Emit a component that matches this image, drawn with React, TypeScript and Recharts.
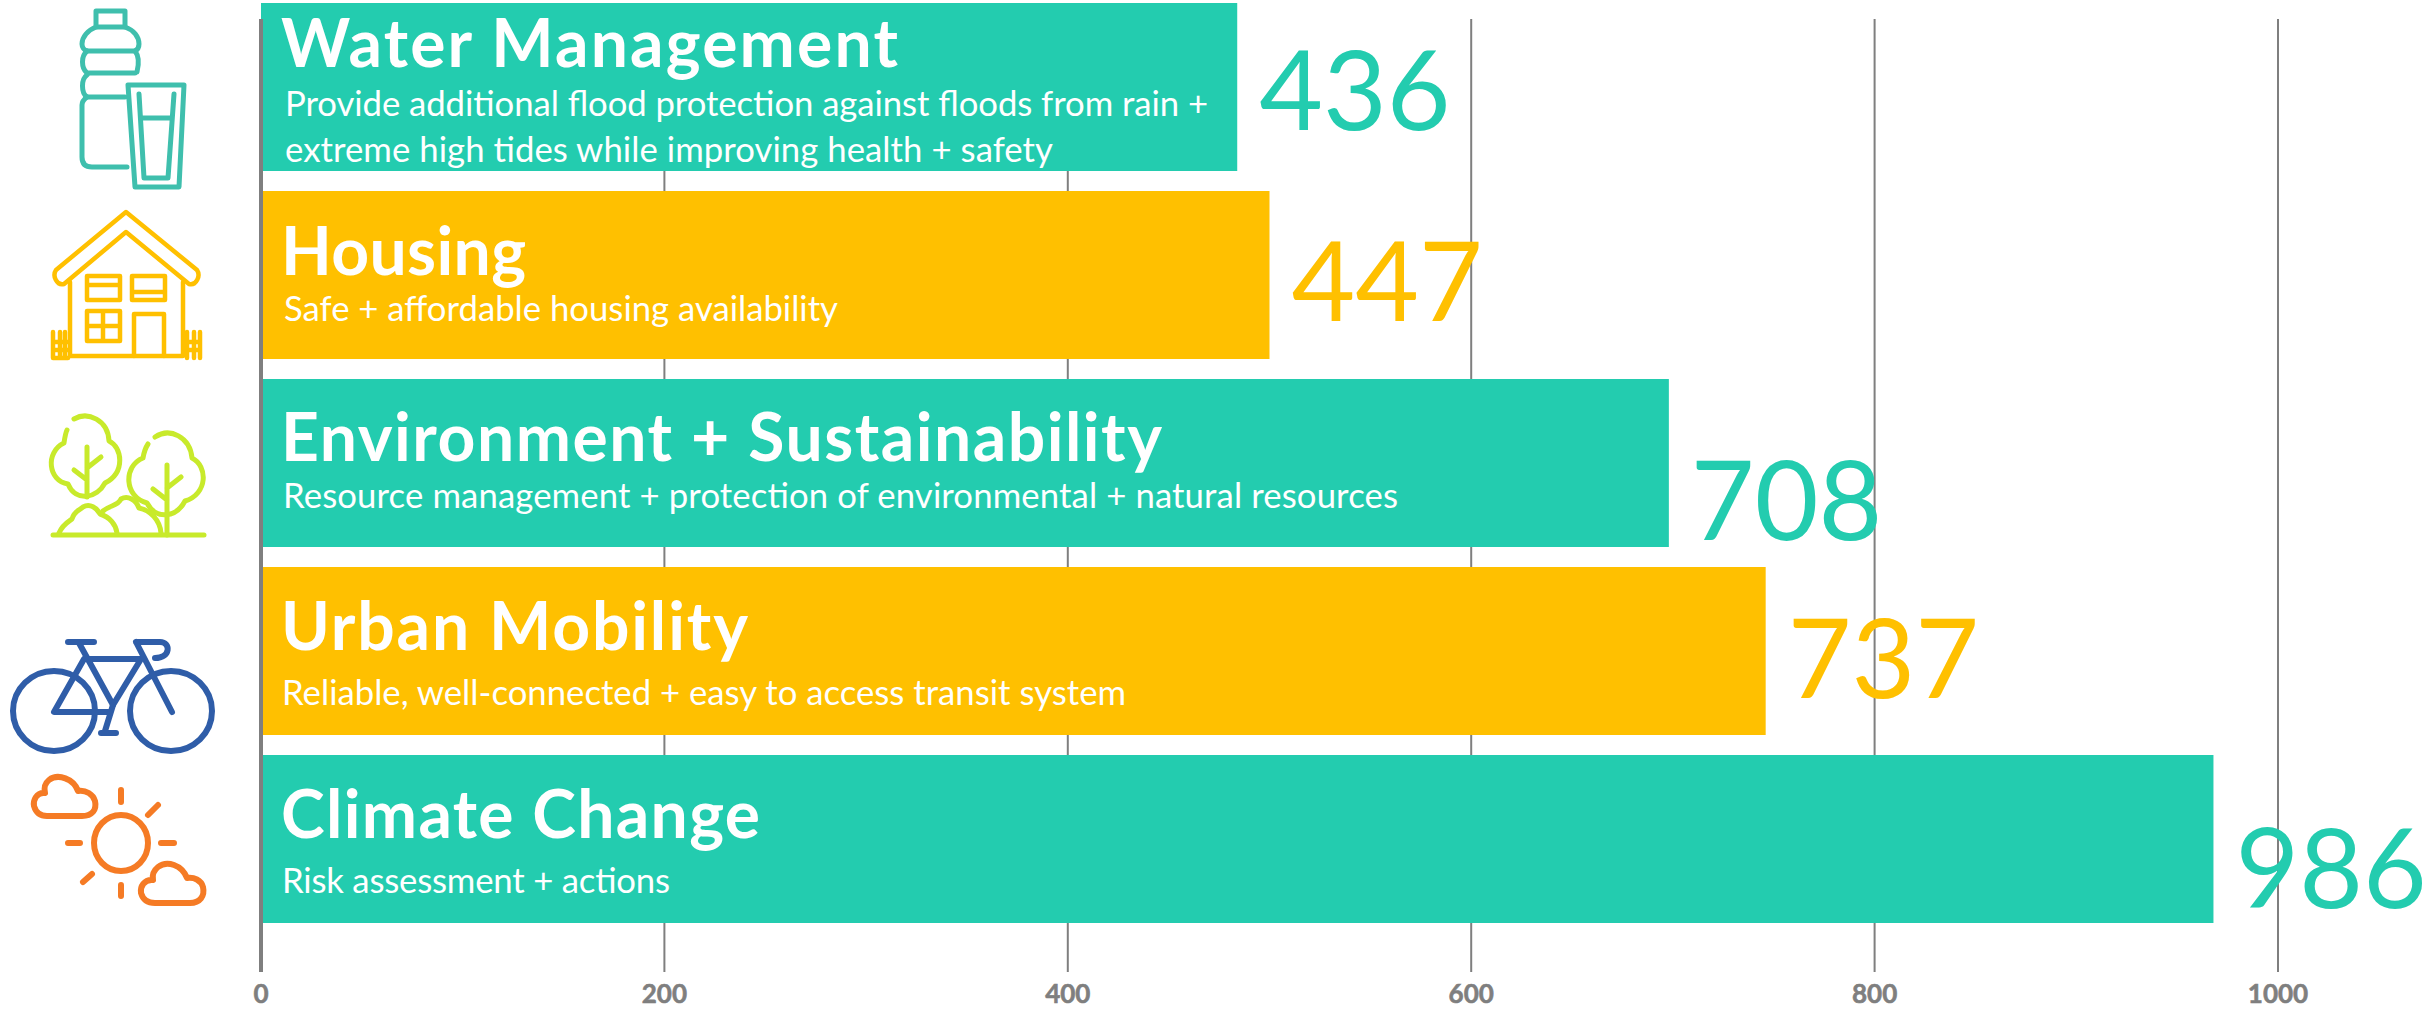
import React from "react";
import {
  BarChart,
  Bar,
  Cell,
  XAxis,
  YAxis,
  CartesianGrid,
  LabelList,
  ReferenceLine,
} from "recharts";

const categories = [
  "Water Management",
  "Housing",
  "Environment + Sustainability",
  "Urban Mobility",
  "Climate Change",
];
// bar lengths as drawn on the axis; the printed numbers differ from them in the picture
const barLengths = [484, 500, 698, 746, 968];
const printedValues = [436, 447, 708, 737, 986];
const subtitles = [
  [
    "Provide additional flood protection against floods from rain +",
    "extreme high tides while improving health + safety",
  ],
  ["Safe + affordable housing availability"],
  ["Resource management + protection of environmental + natural resources"],
  ["Reliable, well-connected + easy to access transit system"],
  ["Risk assessment + actions"],
];
const xTicks = [0, 200, 400, 600, 800, 1000];

const TEAL = "#23CCAF";
const YELLOW = "#FFC000";
const GREY = "#7F7F7F";
const FONT = "Lato, sans-serif";
const barColors = [TEAL, YELLOW, TEAL, YELLOW, TEAL];

// baselines inside each bar, measured from the bar's top edge
const titleBaseline = [64, 84, 82, 83, 83];
const subBaselines = [[113, 159], [130], [129], [138], [138]];
const titleWidths = [617, 245, 881, 467, 479];
const subWidths = [[923, 768], [554], [1115], [844], [388]];
const titleInset = [20, 20, 20, 20, 20];
const subInset = [24, 23, 22, 21, 21];
const numberBaseline = [127, 130, 161, 131, 153];

const rows = categories.map((name, i) => ({
  name,
  length: barLengths[i],
  printed: printedValues[i],
}));

const BarText = (props: any) => {
  const { x, y, index } = props;
  return (
    <g fontFamily={FONT} fill="#fff">
      <text
        x={x + titleInset[index]}
        y={y + titleBaseline[index]}
        fontSize={66}
        fontWeight={700}
        textLength={titleWidths[index]}
      >
        {categories[index]}
      </text>
      {subtitles[index].map((line, j) => (
        <text
          key={j}
          x={x + subInset[index]}
          y={y + subBaselines[index][j]}
          fontSize={34.7}
          textLength={subWidths[index][j]}
        >
          {line}
        </text>
      ))}
    </g>
  );
};

const PrintedNumber = (props: any) => {
  const { x, y, width, index, value } = props;
  return (
    <text
      x={x + width + 22}
      y={y + numberBaseline[index]}
      fontFamily={FONT}
      fontSize={110}
      fill={barColors[index]}
    >
      {value}
    </text>
  );
};

const AxisLine = (props: any) => (
  <line
    x1={props.x1}
    x2={props.x2}
    y1={39}
    y2={992}
    stroke={GREY}
    strokeWidth={4}
  />
);

const Icons = () => (
  <svg
    width={260}
    height={1009}
    style={{ position: "absolute", left: 0, top: 0 }}
    fill="none"
    strokeLinecap="round"
    strokeLinejoin="round"
  >
    {/* bottle + glass */}
    <g stroke="#3FBFAD" strokeWidth={5}>
      <path d="M96 27V11H125V27" />
      <path d="M96 27H125C134 30 139 37 139 44C139 48 137 50 135 51H87C84 50 82 47 82 44C82 37 88 30 96 27Z" />
      <path d="M87 51C81 56 81 68 87 73H135M135 51C139 56 139 64 137 72" />
      <path d="M87 75C81 79 81 93 87 97H125" />
      <path d="M87 97C83 100 82 102 82 105V157C82 164 86 167 92 167H127" />
      <path d="M128 85H184L179 187H135Z" />
      <path d="M139 94L144 178H168L174 94" />
      <path d="M142 118H171" />
    </g>
    {/* house */}
    <g stroke={YELLOW} strokeWidth={4.5}>
      <path d="M126 212L197 270C201 276 196 286 189 284L126 232L64 284C57 286 52 276 56 270Z" />
      <path d="M70 282V356H183V282" />
      <path d="M87 276H120V300H87ZM87 285H120M132 276H165V300H132ZM132 292H165" />
      <path d="M87 311H120V341H87ZM103 311V341M87 326H120" />
      <path d="M134 356V314H164V356" />
      <path d="M53 332V358H68M60 332V358M65 332V358M53 342H68M53 350H68" />
      <path d="M187 332V358M194 332V358M200 332V358M185 342H200M185 350H200" />
    </g>
    {/* trees */}
    <g stroke="#C8EA2B" strokeWidth={5}>
      <path d="M74 419C88 411 108 420 109 441C122 447 126 472 105 483C97 498 76 503 68 484C48 481 45 452 64 443C65 436 66 432 67 430" />
      <path d="M155 437C170 427 190 437 192 458C208 466 208 494 185 501C176 518 156 520 147 503C124 497 123 466 143 458C144 452 146 447 148 444" />
      <path d="M87 447V497M87 468L101 457M87 480L74 470" />
      <path d="M167 465V535M167 488L181 477M167 500L153 489" />
      <path d="M53 535H204" />
      <path d="M59 533C63 524 68 522 72 519C74 511 80 510 83 507C90 503 97 508 100 514C110 517 116 525 117 533" />
      <path d="M103 511C110 505 118 506 121 499C128 495 136 500 139 508C150 510 160 520 161 533" />
    </g>
    {/* bicycle */}
    <g stroke="#2F5DA8" strokeWidth={6}>
      <ellipse cx={54} cy={711} rx={41} ry={40} />
      <ellipse cx={171} cy={711} rx={41} ry={40} />
      <path d="M68 642H94M79 643L113 705M85 659H141M141 659L113 705M84 659L54 712H108" />
      <path d="M136 642L172 712M136 642H160C171 642 171 658 155 658" />
      <path d="M113 705L105 731M101 733H116" />
    </g>
    {/* sun + clouds */}
    <g stroke="#F57B25" strokeWidth={6}>
      <ellipse cx={121} cy={843} rx={27} ry={28} />
      <path d="M121 790V802M121 885V896M68 843H80M161 843H174M148 815L158 805M83 882L92 874" />
      <path d="M47 816H82C92 816 97 810 95 801C93 794 86 790 78 791C74 779 58 773 49 780C44 784 44 788 45 793C36 792 33 801 34 806C36 813 41 816 47 816Z" />
      <path d="M155 903H190C200 903 205 896 203 887C201 880 194 877 187 878C182 865 167 860 158 867C153 871 152 875 153 880C144 879 140 887 141 893C143 900 148 903 155 903Z" />
    </g>
  </svg>
);

export default function App() {
  return (
    <div
      style={{
        position: "absolute",
        left: 0,
        top: 0,
        width: 2432,
        height: 1009,
        overflow: "hidden",
        background: "#fff",
      }}
    >
      <Icons />
      <div style={{ position: "absolute", left: 0, top: -20 }}>
        <BarChart
          width={2432}
          height={1029}
          data={rows}
          layout="vertical"
          barCategoryGap={10}
          margin={{ top: 13, right: 154, bottom: 0, left: 261 }}
        >
          <CartesianGrid
            horizontal={false}
            stroke={GREY}
            strokeWidth={2}
            y={39}
            height={953}
          />
          <XAxis
            type="number"
            dataKey="length"
            domain={[0, 1000]}
            ticks={xTicks}
            height={37}
            axisLine={false}
            tickLine={false}
            tickMargin={7}
            tick={{
              fill: GREY,
              stroke: GREY,
              strokeWidth: 0.6,
              fontSize: 26,
              fontWeight: 700,
              fontFamily: FONT,
            }}
          />
          <YAxis
            type="category"
            dataKey="name"
            width={0}
            hide
            padding={{ top: 0, bottom: 39 }}
          />
          <Bar dataKey="length" isAnimationActive={false}>
            {rows.map((_, i) => (
              <Cell key={i} fill={barColors[i]} />
            ))}
            <LabelList dataKey="name" content={BarText} />
            <LabelList dataKey="printed" content={PrintedNumber} />
          </Bar>
          <ReferenceLine x={0} shape={AxisLine} />
        </BarChart>
      </div>
    </div>
  );
}
